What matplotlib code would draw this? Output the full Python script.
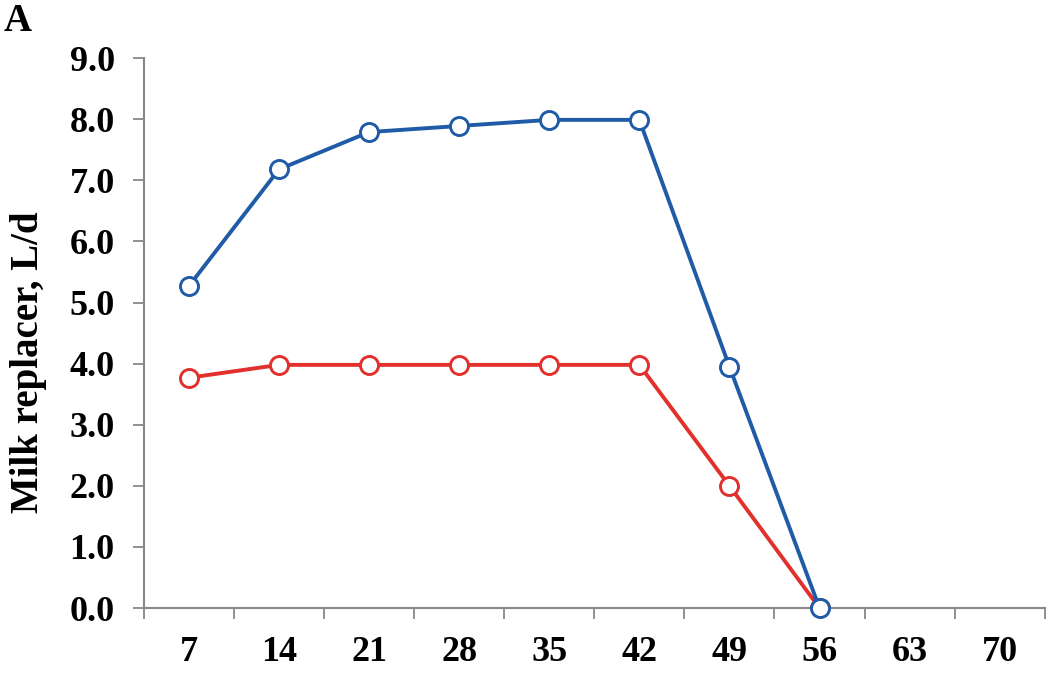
import matplotlib
matplotlib.use("Agg")
import matplotlib.pyplot as plt
import numpy as np

days = ["7", "14", "21", "28", "35", "42", "49", "56", "63", "70"]
blue_vals = [5.27, 7.18, 7.79, 7.89, 7.99, 7.99, 3.95, 0.0]
red_vals = [3.77, 3.98, 3.98, 3.98, 3.98, 3.98, 2.0, 0.0]
yticks = [0.0, 1.0, 2.0, 3.0, 4.0, 5.0, 6.0, 7.0, 8.0, 9.0]

plt.rcParams['font.family'] = ['Liberation Serif', 'DejaVu Serif']
plt.rcParams['font.weight'] = 'bold'

fig = plt.figure(figsize=(10.5, 6.84), dpi=100)
ax = fig.add_axes([0.137, 0.111, 0.858, 0.804])

blue = "#1F5BA6"
red = "#E2302D"
xb = np.arange(len(blue_vals))
xr = np.arange(len(red_vals))
ax.plot(xr, red_vals, color=red, lw=2.8, marker='o', ms=13, mfc='white',
        mec=red, mew=2.1, zorder=3)
ax.plot(xb, blue_vals, color=blue, lw=2.8, marker='o', ms=13, mfc='white',
        mec=blue, mew=2.1, zorder=4, clip_on=False)

ax.set_xlim(-0.5, len(days) - 0.5)
ax.set_ylim(0, 9.0)
ax.set_yticks(yticks)
ax.set_yticklabels([f"{v:.1f}" for v in yticks], fontsize=26, fontweight='bold')

ax.set_xticks(np.arange(len(days) + 1) - 0.5)
ax.set_xticklabels([])
ax.set_xticks(np.arange(len(days)), minor=True)
ax.set_xticklabels(days, minor=True, fontsize=26, fontweight='bold')
ax.tick_params(axis='x', which='minor', length=0, pad=20)
ax.tick_params(axis='x', which='major', length=8, width=1.3, color='#888888', direction='out')
ax.tick_params(axis='y', length=8, width=1.3, color='#888888', direction='out', pad=13)

for s in ['top', 'right']:
    ax.spines[s].set_visible(False)
for s in ['left', 'bottom']:
    ax.spines[s].set_color('#888888')
    ax.spines[s].set_linewidth(1.5)

fig.text(29 / 1050, 1 - 362 / 684, "Milk replacer, L/d", fontsize=28, fontweight='bold',
         rotation=90, ha='center', va='center')
fig.text(0.003, 0.968, "A", fontsize=28, fontweight='bold', ha='left', va='center')

fig.savefig("out.png", dpi=100)
